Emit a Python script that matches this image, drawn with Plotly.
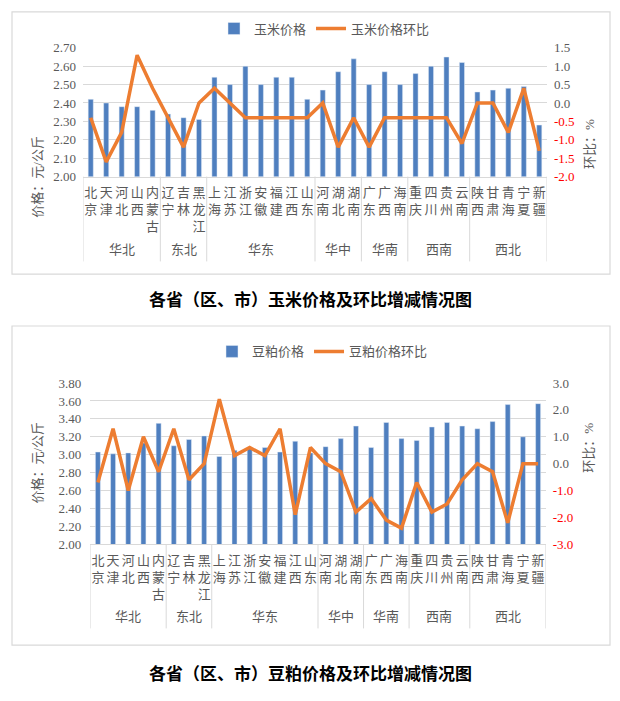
import plotly.graph_objects as go

provinces = ["北京", "天津", "河北", "山西", "内蒙古", "辽宁", "吉林", "黑龙江",
             "上海", "江苏", "浙江", "安徽", "福建", "江西", "山东",
             "河南", "湖北", "湖南", "广东", "广西", "海南",
             "重庆", "四川", "贵州", "云南", "陕西", "甘肃", "青海", "宁夏", "新疆"]
regions = (["华北"] * 5 + ["东北"] * 3 + ["华东"] * 7 + ["华中"] * 3 +
           ["华南"] * 3 + ["西南"] * 4 + ["西北"] * 5)

corn_price = [2.42, 2.40, 2.38, 2.38, 2.36, 2.34, 2.32, 2.31,
              2.54, 2.50, 2.60, 2.50, 2.54, 2.54, 2.42,
              2.47, 2.57, 2.64, 2.50, 2.57, 2.50,
              2.56, 2.60, 2.65, 2.62, 2.46, 2.47, 2.48, 2.49, 2.28]
corn_mom = [-0.4, -1.6, -0.8, 1.3, 0.4, -0.4, -1.2, 0.0,
            0.4, 0.0, -0.4, -0.4, -0.4, -0.4, -0.4,
            0.0, -1.2, -0.4, -1.2, -0.4, -0.4,
            -0.4, -0.4, -0.4, -1.1, 0.0, 0.0, -0.8, 0.4, -1.3]

soy_price = [3.03, 3.01, 3.02, 3.13, 3.35, 3.10, 3.17, 3.21,
             2.98, 3.05, 3.07, 3.08, 3.03, 3.15, 3.02,
             3.09, 3.18, 3.32, 3.08, 3.36, 3.18,
             3.16, 3.31, 3.36, 3.32, 3.29, 3.37, 3.56, 3.20, 3.57]
soy_mom = [-0.7, 1.3, -1.0, 1.0, -0.3, 1.3, -0.6, 0.0,
           2.4, 0.3, 0.6, 0.3, 1.3, -1.9, 0.6,
           0.0, -0.3, -1.8, -1.3, -2.1, -2.4,
           -0.7, -1.8, -1.5, -0.6, 0.0, -0.3, -2.2, 0.0, 0.0]

corn_left_ticks = [2.00, 2.10, 2.20, 2.30, 2.40, 2.50, 2.60, 2.70]
corn_right_ticks = [-2.0, -1.5, -1.0, -0.5, 0.0, 0.5, 1.0, 1.5]
soy_left_ticks = [2.00, 2.20, 2.40, 2.60, 2.80, 3.00, 3.20, 3.40, 3.60, 3.80]
soy_right_ticks = [-3.0, -2.0, -1.0, 0.0, 1.0, 2.0, 3.0]

W, H = 620, 701
def X(px):
    return px / W
def Y(py):
    return 1 - py / H

BLUE = "#4f7fbf"
ORANGE = "#ed7d31"
GRAY = "#595959"
GRID = "#d9d9d9"
FONT = "Liberation Serif, Noto Sans CJK SC"

tick_text = ["<br>".join(list(p)) for p in provinces]

def right_text(vals):
    out = []
    for v in vals:
        s = f"{v:.1f}"
        if v < 0:
            s = f"<span style='color:#ff0000'>{s}</span>"
        out.append(s)
    return out

fig = go.Figure()
fig.add_trace(go.Bar(x=provinces, y=corn_price, name="玉米价格", marker_color=BLUE,
                     xaxis="x", yaxis="y", legend="legend"))
fig.add_trace(go.Scatter(x=provinces, y=corn_mom, name="玉米价格环比", mode="lines",
                         line=dict(color=ORANGE, width=3.5), xaxis="x", yaxis="y2",
                         legend="legend"))
fig.add_trace(go.Bar(x=provinces, y=soy_price, name="豆粕价格", marker_color=BLUE,
                     xaxis="x2", yaxis="y3", legend="legend2"))
fig.add_trace(go.Scatter(x=provinces, y=soy_mom, name="豆粕价格环比", mode="lines",
                         line=dict(color=ORANGE, width=3.5), xaxis="x2", yaxis="y4",
                         legend="legend2"))

# panel geometry (pixels)
p1 = dict(l=83, r=547, t=41.7, b=173.3, div_b=260, row_y=248)
p2 = dict(l=90.3, r=545.7, t=384.3, b=549, div_b=635, row_y=623)

xcommon = dict(type="category", range=[-0.5, len(provinces) - 0.5],
               tickvals=provinces, ticktext=tick_text, showgrid=False,
               showline=True, linecolor=GRID, linewidth=1, ticks="",
               tickfont=dict(family=FONT, size=13, color=GRAY),
               ticklabelstandoff=4, fixedrange=True)
ycommon = dict(showgrid=True, gridcolor=GRID, gridwidth=1, zeroline=False,
               showline=False, ticks="", tickfont=dict(family=FONT, size=13, color=GRAY))

fig.update_layout(
    width=W, height=H, margin=dict(l=0, r=0, t=0, b=0),
    paper_bgcolor="white", plot_bgcolor="white",
    bargap=0.67, showlegend=True,
    xaxis=dict(xcommon, domain=[X(p1["l"]), X(p1["r"])], anchor="y"),
    yaxis=dict(ycommon, domain=[Y(p1["b"]), Y(p1["t"])], anchor="x",
               range=[2.0, 2.7], tickvals=corn_left_ticks,
               ticktext=[f"{v:.2f}" for v in corn_left_ticks], ticklabelstandoff=6),
    yaxis2=dict(overlaying="y", side="right", anchor="x", range=[-2.0, 1.5],
                showgrid=False, zeroline=False, ticks="",
                tickvals=corn_right_ticks, ticktext=right_text(corn_right_ticks),
                tickfont=dict(family=FONT, size=13, color=GRAY), ticklabelstandoff=6),
    xaxis2=dict(xcommon, domain=[X(p2["l"]), X(p2["r"])], anchor="y3"),
    yaxis3=dict(ycommon, domain=[Y(p2["b"]), Y(p2["t"])], anchor="x2",
                range=[2.0, 3.8], tickvals=soy_left_ticks,
                ticktext=[f"{v:.2f}" for v in soy_left_ticks], ticklabelstandoff=8),
    yaxis4=dict(overlaying="y3", side="right", anchor="x2", range=[-3.0, 3.0],
                showgrid=False, zeroline=False, ticks="",
                tickvals=soy_right_ticks, ticktext=right_text(soy_right_ticks),
                tickfont=dict(family=FONT, size=13, color=GRAY), ticklabelstandoff=6),
    legend=dict(orientation="h", x=X(214), y=Y(22), xanchor="left", yanchor="middle",
                font=dict(family=FONT, size=13, color=GRAY), bgcolor="rgba(0,0,0,0)",
                itemwidth=30, traceorder="normal"),
    legend2=dict(orientation="h", x=X(212), y=Y(352), xanchor="left", yanchor="middle",
                 font=dict(family=FONT, size=13, color=GRAY), bgcolor="rgba(0,0,0,0)",
                 itemwidth=30, traceorder="normal"),
)

shapes = []
annotations = []

# outer boxes
for (y0, y1) in [(5, 273), (326, 652)]:
    shapes.append(dict(type="rect", xref="paper", yref="paper",
                       x0=X(12), x1=X(610), y0=Y(y1), y1=Y(y0),
                       line=dict(color=GRID, width=1.2), fillcolor="rgba(0,0,0,0)"))

# region groups: dividers and labels
groups = []
start = 0
for i in range(1, len(regions) + 1):
    if i == len(regions) or regions[i] != regions[start]:
        groups.append((regions[start], start, i - 1))
        start = i

for xref, p in [("x", p1), ("x2", p2)]:
    bounds = [g[1] - 0.5 for g in groups] + [groups[-1][2] + 0.5]
    for b in bounds:
        shapes.append(dict(type="line", xref=xref, yref="paper", x0=b, x1=b,
                           y0=Y(p["div_b"]), y1=Y(p["b"]),
                           line=dict(color=GRID, width=1)))
    for name, s, e in groups:
        annotations.append(dict(xref=xref, yref="paper", x=(s + e) / 2, y=Y(p["row_y"]),
                                text=name, showarrow=False, yanchor="middle",
                                font=dict(family=FONT, size=13, color=GRAY)))

# axis titles
annotations += [
    dict(xref="paper", yref="paper", x=X(28), y=Y(130), text="价格：元/公斤",
         textangle=-90, showarrow=False, font=dict(family=FONT, size=13, color=GRAY)),
    dict(xref="paper", yref="paper", x=X(599), y=Y(113), text="环比：%",
         textangle=-90, showarrow=False, font=dict(family=FONT, size=13, color=GRAY)),
    dict(xref="paper", yref="paper", x=X(28), y=Y(466), text="价格：元/公斤",
         textangle=-90, showarrow=False, font=dict(family=FONT, size=13, color=GRAY)),
    dict(xref="paper", yref="paper", x=X(598), y=Y(451), text="环比：%",
         textangle=-90, showarrow=False, font=dict(family=FONT, size=13, color=GRAY)),
    dict(xref="paper", yref="paper", x=0.5, y=Y(298), yanchor="middle",
         text="<b>各省（区、市）玉米价格及环比增减情况图</b>", showarrow=False,
         font=dict(family="Noto Sans CJK SC", size=17, color="#000000")),
    dict(xref="paper", yref="paper", x=0.5, y=Y(680), yanchor="middle",
         text="<b>各省（区、市）豆粕价格及环比增减情况图</b>", showarrow=False,
         font=dict(family="Noto Sans CJK SC", size=17, color="#000000")),
]

fig.update_layout(shapes=shapes, annotations=annotations)
fig.write_html("out.html", config={"displayModeBar": False},
               post_script="document.body.style.margin='0px';")
